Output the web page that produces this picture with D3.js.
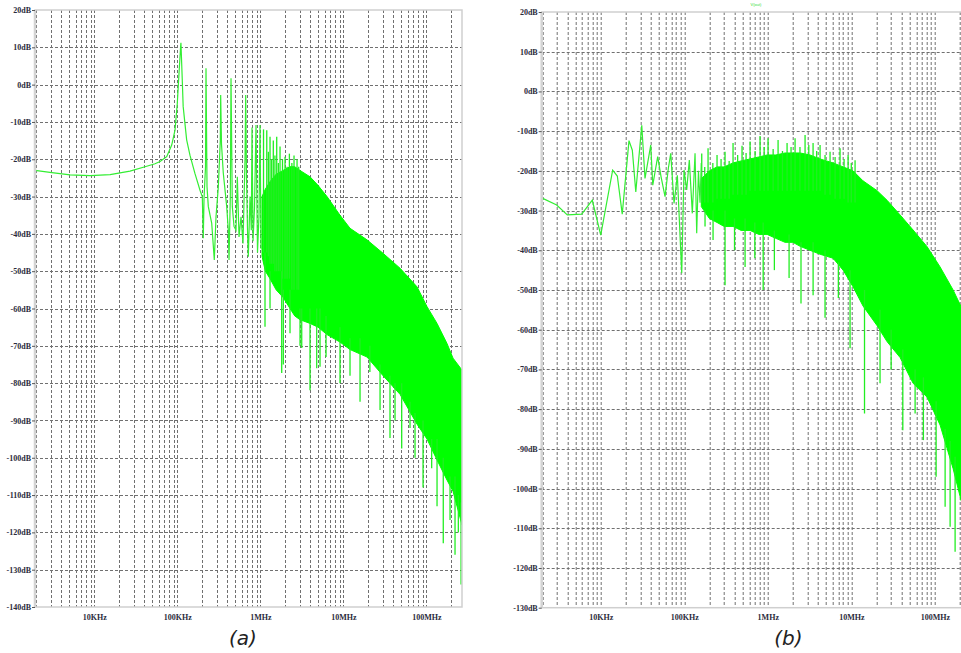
<!DOCTYPE html>
<html>
<head>
<meta charset="utf-8">
<script src="https://cdnjs.cloudflare.com/ajax/libs/d3/7.8.5/d3.min.js"></script>
<style>
body { margin: 0; background: #fff; }
svg { display: block; }
.tick text { font-family: "Liberation Serif", "Times New Roman", serif; font-weight: bold; font-size: 8px; fill: #2b2b3b; }
.tick line { stroke: #555; }
.grid line { stroke: #707070; stroke-width: 1; stroke-dasharray: 3,2; }
.caption { font-family: "DejaVu Sans", Verdana, sans-serif; font-style: italic; font-size: 20px; fill: #222; }
</style>
</head>
<body>
<svg id="chart" width="961" height="653"></svg>
<script>
// ---- shared axis labels
var xTickVals = [1e4, 1e5, 1e6, 1e7, 1e8];
var xTickLabels = ["10KHz", "100KHz", "1MHz", "10MHz", "100MHz"];
var aYTicks = [20, 10, 0, -10, -20, -30, -40, -50, -60, -70, -80, -90, -100, -110, -120, -130, -140];
var bYTicks = [20, 10, 0, -10, -20, -30, -40, -50, -60, -70, -80, -90, -100, -110, -120, -130];

// ---- panel (a): low frequency trace (Hz, dB)
var aTraceF = [1.93e3, 2.92e3, 5.1e3, 8.88e3, 15.5e3, 26.9e3, 40.8e3, 53.9e3, 62e3, 74.5e3, 85.6e3, 93.8e3, 100e3, 104.8e3, 109.9e3, 110.6e3,
  114.8e3, 117.7e3, 129.6e3, 142e3, 163e3, 187.7e3, 200e3, 205.6e3, 209.8e3, 218.7e3, 221.7e3, 228e3, 236.4e3, 259.8e3, 279e3, 292.6e3,
  311.9e3, 329.6e3, 333e3, 340.8e3, 358e3, 393.6e3, 411.7e3, 419.8e3, 435e3, 443.6e3, 459.9e3, 482e3, 509.4e3, 528.4e3, 553.9e3, 585.5e3,
  618.8e3, 654.1e3, 667e3, 682e3, 701e3, 716.9e3, 751.6e3, 779e3, 794e3, 817e3, 851e3, 887.6e3, 925e3, 964.5e3, 991.8e3, 1.02e6];
var aTraceDb = [-23, -23.5, -24.2, -24.4, -24.1, -23.2, -22, -21.2, -20.6, -19.3, -16.2, -12.2, -5, 3, 10.6, 11.2,
  1.1, -5.9, -14.8, -18.9, -23.8, -28.3, -30, -41.2, -30.5, -22, 4.4, -27.4, -32.7, -37.2, -47, -35.4,
  -27.4, -15, -2.8, -16, -23.7, -32.7, -39, -47, -30, 1.7, -32.7, -38, -39, -24.7, -40.8, -35.4,
  -42.6, -20, -2.8, -25, -39, -46.1, -30, -39, -11.5, -42, -33, -10.8, -45, -35, -10.8, -44];

// ---- panel (a): dense band above 1MHz
var aBandF = [1.048e6, 1.15e6, 1.309e6, 1.55e6, 1.877e6, 2.279e6, 2.6e6, 3.009e6, 3.97e6, 4.957e6, 6.362e6, 9.125e6, 12.04e6, 19.3e6,
  30.1e6, 48.2e6, 77.3e6, 102e6, 134.6e6, 177.6e6, 209.7e6, 269e6];
var aBandHi = [-30, -28, -26, -24, -23, -22, -22, -23, -24.7, -27, -30, -35, -38.5, -41.6, -45.2, -49.2, -54.2, -59.5, -64, -69.4, -73.3, -76.5];
var aBandLo = [-46, -50, -52, -55, -57, -60, -62, -63, -64, -65, -67, -69, -71, -73, -78, -83, -91, -95, -100.6, -106, -109, -118];

// ---- panel (a): spikes above the band, and dips below it
var aUpF = [1.093e6, 1.196e6, 1.25e6, 1.309e6, 1.37e6, 1.434e6, 1.5e6, 1.576e6, 1.65e6, 1.728e6, 1.85e6, 1.984e6, 2.1e6, 2.24e6, 2.4e6,
  2.547e6, 2.77e6, 2.9e6];
var aUpLo = [-45, -45, -46, -48, -48, -48, -50, -50, -50, -50, -52, -52, -52, -52, -55, -55, -55, -55];
var aUpHi = [-12, -12.2, -18, -14, -20, -15, -19, -14, -21, -16.6, -20, -19.3, -22, -18.5, -21, -19, -20, -22];
var aDipF = [1.139e6, 1.309e6, 1.81e6, 1.893e6, 2.279e6, 3.009e6, 3.154e6, 3.97e6, 4.78e6, 5.24e6, 6.19e6, 9.125e6, 12.04e6, 15.9e6,
  20.9e6, 27.7e6, 36.5e6, 41.97e6, 50.5e6, 63.6e6, 73.1e6, 91.3e6, 116e6, 134.6e6, 160e6, 193e6, 221.7e6, 243e6, 262e6];
var aDipHi = [-45, -50, -50, -55, -55, -60, -60, -60, -60, -60, -62, -65, -68, -68, -70, -75, -78, -80, -80, -85, -88, -90, -95, -95,
  -100, -105, -105, -110, -112];
var aDipLo = [-64.9, -60, -77.3, -75, -66.6, -70, -70.6, -81.9, -76, -75.6, -73, -80, -78, -85, -77, -87.2, -94.7, -90, -97.5, -92,
  -100, -108, -102.8, -113, -122.9, -116.7, -126, -120, -134];

// ---- panel (b): low frequency trace
var bTraceF = [1.965e3, 2.97e3, 3.98e3, 5.92e3, 7.93e3, 10e3, 13.9e3, 15.8e3, 18.1e3, 21.8e3, 23.9e3, 26.3e3, 31e3, 33.9e3, 39.7e3, 42e3,
  48.1e3, 52.8e3, 58.9e3, 64.5e3, 68.9e3, 75.5e3, 82.7e3, 93.3e3, 99.4e3, 107e3, 115e3, 125e3, 134.7e3, 141e3, 148e3, 154.6e3, 160e3];
var bTraceDb = [-26.8, -28.6, -31.1, -30.9, -27.4, -36.2, -19.8, -21.3, -30.9, -12.4, -14.8, -25.3, -8.5, -21.9, -13.5, -23.6,
  -16.4, -21.5, -26.5, -19.4, -15.6, -28.2, -21.1, -45.8, -19.8, -24.8, -17.3, -30.7, -15.6, -35.7, -20, -28, -18];

// ---- panel (b): dense band
var bBandF = [160e3, 200e3, 247e3, 300e3, 384e3, 480e3, 614e3, 780e3, 983e3, 1.25e6, 1.61e6, 2e6, 2.44e6, 3.2e6, 4.23e6, 6.05e6, 7.98e6,
  10.5e6, 13.8e6, 20.4e6, 26.8e6, 38.4e6, 55e6, 80.9e6, 115.7e6, 165.7e6, 206.5e6, 269e6];
var bBandHi = [-22, -20, -19, -19, -18, -17.5, -17, -16.5, -16, -16, -15.5, -15.5, -15.5, -16, -17, -18, -19,
  -20, -22.5, -25, -27.4, -31.1, -34.9, -39.1, -44.2, -50, -54.2, -60];
var bBandLo = [-29, -32, -33, -34, -34, -35, -35, -36, -36, -37, -38, -38, -39, -40, -41, -42, -45,
  -49.2, -54, -59, -63, -67, -73.5, -77, -84, -95, -103, -110];

// ---- panel (b): spikes above the band, and dips below it
var bUpF = [162e3, 176e3, 192.8e3, 220e3, 247e3, 276e3, 308e3, 345e3, 384e3, 436e3, 492e3, 550e3, 614e3, 705e3, 808.6e3, 905e3,
  1.008e6, 1.16e6, 1.329e6, 1.5e6, 1.703e6, 1.9e6, 2.123e6, 2.43e6, 2.797e6, 3.1e6, 3.487e6, 3.85e6, 4.23e6, 4.85e6, 5.57e6,
  6.4e6, 7.34e6, 8.2e6, 9.16e6, 10e6, 11.1e6];
var bUpLo = [-28, -28, -28, -28, -27, -27, -27, -27, -26, -26, -26, -26, -25, -25, -25, -25, -25, -25, -25, -25, -25, -25, -25, -25,
  -25, -25, -25, -25, -25, -26, -26, -27, -27, -27, -28, -28, -28];
var bUpHi = [-15.6, -19, -14.3, -18, -16, -17, -15.2, -17.5, -13, -16, -13.7, -15.5, -12.6, -15, -11.2, -14, -11.8, -14.5, -12.2, -15,
  -13, -14, -11.8, -14, -11, -13.5, -13, -15, -13.5, -16, -15.2, -16.5, -14.3, -17, -16, -18, -17.3];
var bDipF = [177.4e3, 221.3e3, 308e3, 400e3, 535e3, 700e3, 881e3, 1.2e6, 1.8e6, 2.5e6, 3.49e6, 4.85e6, 7e6, 9.67e6, 14.4e6, 22.1e6, 30e6,
  41.4e6, 58.1e6, 73e6, 103.7e6, 132.9e6, 152.5e6, 175e6];
var bDipHi = [-30, -30, -30, -32, -32, -33, -33, -35, -36, -38, -38, -40, -43, -45, -50, -55, -60, -65, -70, -72, -78, -85, -88, -92];
var bDipLo = [-34, -37.4, -48.8, -40, -44.2, -42, -50, -45, -47, -53.4, -51.3, -57, -52, -64.7, -81.1, -73.5, -70, -85.3, -81.1,
  -87.8, -97, -104.6, -109.6, -115.9];

var svg = d3.select('#chart');

function zip(f, v) {
  return f.map(function(d, i) { return [d, v[i]]; });
}

function drawPanel(cfg) {
  var g = svg.append('g').attr('transform', 'translate(' + cfg.left + ',' + cfg.top + ')');

  var x = d3.scaleLog().domain(cfg.xDomain).range([0, cfg.width]);
  var y = d3.scaleLinear().domain([cfg.yTicks[cfg.yTicks.length - 1], cfg.yTicks[0]]).range([cfg.height, 0]);

  // dashed grid
  var grid = g.append('g').attr('class', 'grid');
  grid.selectAll('line.v').data(x.ticks()).enter().append('line')
      .attr('x1', function(d) { return Math.round(x(d)) + 0.5; })
      .attr('x2', function(d) { return Math.round(x(d)) + 0.5; })
      .attr('y1', 0).attr('y2', cfg.height);
  grid.selectAll('line.h').data(cfg.yTicks.slice(1, -1)).enter().append('line')
      .attr('x1', 0).attr('x2', cfg.width)
      .attr('y1', function(d) { return Math.round(y(d)) + 0.5; })
      .attr('y2', function(d) { return Math.round(y(d)) + 0.5; });

  // data, clipped to the plot box
  var clipId = 'clip' + cfg.name;
  g.append('clipPath').attr('id', clipId).append('rect')
      .attr('width', cfg.width).attr('height', cfg.height);
  var plot = g.append('g').attr('clip-path', 'url(#' + clipId + ')');

  var area = d3.area()
      .x(function(d) { return x(d[0]); })
      .y0(function(d) { return y(d[1]); })
      .y1(function(d) { return y(d[2]); });
  var band = cfg.bandF.map(function(d, i) { return [d, cfg.bandLo[i], cfg.bandHi[i]]; });
  plot.append('path').attr('d', area(band))
      .attr('fill', '#00ff00').attr('stroke', '#00ff00').attr('stroke-width', 1);

  var spikes = [];
  cfg.upF.forEach(function(d, i) { spikes.push([d, cfg.upLo[i], cfg.upHi[i]]); });
  cfg.dipF.forEach(function(d, i) { spikes.push([d, cfg.dipHi[i], cfg.dipLo[i]]); });
  plot.selectAll('line.spike').data(spikes).enter().append('line')
      .attr('x1', function(d) { return x(d[0]); })
      .attr('x2', function(d) { return x(d[0]); })
      .attr('y1', function(d) { return y(d[1]); })
      .attr('y2', function(d) { return y(d[2]); })
      .attr('stroke', '#22ee22').attr('stroke-width', 1.3);

  var line = d3.line()
      .x(function(d) { return x(d[0]); })
      .y(function(d) { return y(d[1]); });
  plot.append('path').attr('d', line(zip(cfg.traceF, cfg.traceDb)))
      .attr('fill', 'none').attr('stroke', '#33ee33').attr('stroke-width', 1.2);

  // frame
  g.append('rect').attr('width', cfg.width).attr('height', cfg.height)
      .attr('fill', 'none').attr('stroke', '#cfcfcf').attr('stroke-width', 1.5);
  g.append('line').attr('x1', 0).attr('x2', 0).attr('y1', 0).attr('y2', cfg.height)
      .attr('stroke', '#d4d4d4').attr('stroke-width', 2.5);

  // axes
  var yAxis = d3.axisLeft(y).tickValues(cfg.yTicks).tickSize(3).tickPadding(1)
      .tickFormat(function(d) { return d + 'dB'; });
  g.append('g').call(yAxis).call(function(s) { s.select('.domain').remove(); });

  var xAxis = d3.axisBottom(x).tickValues(xTickVals).tickSize(0).tickPadding(7)
      .tickFormat(function(d, i) { return xTickLabels[i]; });
  g.append('g').attr('transform', 'translate(0,' + cfg.height + ')').call(xAxis)
      .call(function(s) { s.select('.domain').remove(); });

  svg.append('text').attr('class', 'caption')
      .attr('x', cfg.left + cfg.capX).attr('y', 645).attr('text-anchor', 'middle').text(cfg.caption);
  return g;
}

drawPanel({
  name: 'a', left: 35, top: 10, width: 427, height: 597,
  xDomain: [1.93e3, 2.69e8], yTicks: aYTicks,
  traceF: aTraceF, traceDb: aTraceDb,
  bandF: aBandF, bandHi: aBandHi, bandLo: aBandLo,
  upF: aUpF, upLo: aUpLo, upHi: aUpHi,
  dipF: aDipF, dipHi: aDipHi, dipLo: aDipLo,
  caption: '(a)', capX: 208
});

drawPanel({
  name: 'b', left: 541.7, top: 12, width: 429, height: 595.7,
  xDomain: [1.965e3, 2.69e8], yTicks: bYTicks,
  traceF: bTraceF, traceDb: bTraceDb,
  bandF: bBandF, bandHi: bBandHi, bandLo: bBandLo,
  upF: bUpF, upLo: bUpLo, upHi: bUpHi,
  dipF: bDipF, dipHi: bDipHi, dipLo: bDipLo,
  caption: '(b)', capX: 246.6
});

// tiny trace name above panel (b)
svg.append('text').attr('x', 756).attr('y', 6).attr('text-anchor', 'middle')
   .attr('font-family', 'Liberation Sans').attr('font-size', 4).attr('fill', '#33dd33').text('V(out)');
</script>
</body>
</html>
